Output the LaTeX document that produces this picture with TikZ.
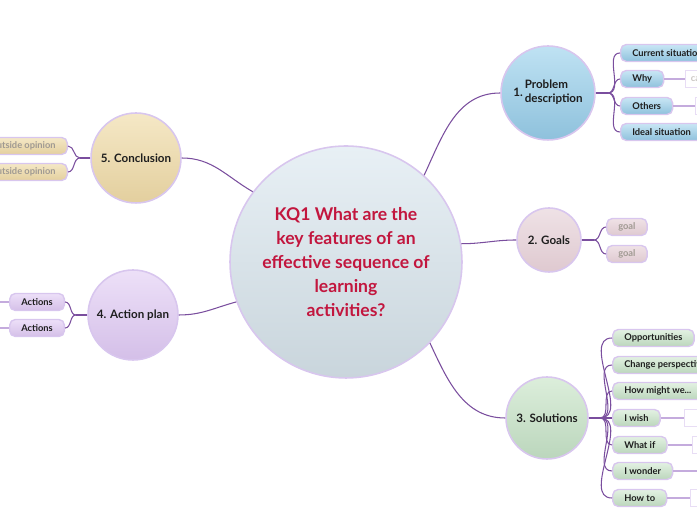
\documentclass[tikz,border=0pt]{standalone}
\usepackage{fontspec}
\setmainfont{Lato}
\definecolor{rim}{HTML}{D8C6EE}
\definecolor{ink}{HTML}{1E1E1E}
\definecolor{dim}{HTML}{A09A92}
\definecolor{vine}{HTML}{7A4E9E}
\definecolor{twigc}{HTML}{C4ABDD}
\definecolor{kqred}{HTML}{C2163E}
\definecolor{kqtop}{HTML}{E8F0F5}
\definecolor{kqbot}{HTML}{C9D5DC}
\definecolor{probtop}{HTML}{BFE2F3}
\definecolor{probbot}{HTML}{8EC1DC}
\definecolor{goaltop}{HTML}{EFE2E6}
\definecolor{goalbot}{HTML}{DFC9D0}
\definecolor{soltop}{HTML}{DCEEDB}
\definecolor{solbot}{HTML}{BBD6BC}
\definecolor{contop}{HTML}{F5E8C6}
\definecolor{conbot}{HTML}{E3CF9E}
\definecolor{acttop}{HTML}{EDE0F8}
\definecolor{actbot}{HTML}{D4BFE8}
\begin{document}
\begin{tikzpicture}
	[	x=0.02cm,y=0.02cm,
	bubble/.style={circle,draw=rim,line width=0.9pt,align=center,text=ink,
		font=\fontsize{6.6}{8}\selectfont\bfseries},
	leaf/.style={rectangle,rounded corners=3.2pt,draw=rim,line width=0.8pt,
		minimum height=0.34cm,inner xsep=6.6pt,inner ysep=1pt,text=ink,
		font=\fontsize{5.3}{6}\selectfont\bfseries,anchor=west},
	probleaf/.style={leaf,top color=probtop!85,bottom color=probbot},
	goalleaf/.style={leaf,top color=goaltop,bottom color=goalbot,text=dim},
	solleaf/.style={leaf,top color=soltop!80!white,bottom color=solbot},
	conleaf/.style={leaf,top color=contop,bottom color=conbot,text=dim,anchor=east},
	actleaf/.style={leaf,top color=acttop,bottom color=actbot},
	stub/.style={rectangle,draw=rim!60,fill=white,line width=0.6pt,
		minimum height=0.34cm,inner xsep=3pt,anchor=west,
		text=dim!55,font=\fontsize{5.3}{6}\selectfont\bfseries},
	blank/.style={stub,minimum width=1cm},
	link/.style={draw=vine,line width=0.6pt},
	twig/.style={draw=twigc,line width=0.6pt}
	]
	\useasboundingbox (0,0) rectangle (697,520);
	\clip (0,0) rectangle (697,520);

	% centre and main branches
	\node[bubble,minimum size=4.64cm,top color=kqtop,bottom color=kqbot,text=kqred,
		font=\fontsize{10}{13.6}\selectfont\bfseries] (kq) at (346,258)
		{KQ1 What are the\\key features of an\\effective sequence of\\learning\\activities?};
	\node[bubble,minimum size=1.88cm,top color=probtop,bottom color=probbot] (prob) at (548,427)
		{1.\,\begin{tabular}{@{}l@{}}Problem\\description\end{tabular}};
	\node[bubble,minimum size=1.28cm,top color=goaltop,bottom color=goalbot] (goals) at (549,280) {2. Goals};
	\node[bubble,minimum size=1.64cm,top color=soltop,bottom color=solbot] (sol) at (547,102) {3. Solutions};
	\node[bubble,minimum size=1.8cm,top color=acttop,bottom color=actbot] (act) at (133,205) {4. Action plan};
	\node[bubble,minimum size=1.8cm,top color=contop,bottom color=conbot] (con) at (136,362) {5. Conclusion};

	\draw[link] (kq.48) to[out=65,in=180] (prob.west);
	\draw[link] (kq.9) to[out=0,in=180] (goals.west);
	\draw[link] (kq.-44) to[out=-65,in=180] (sol.west);
	\draw[link] (kq.200) to[out=195,in=0] (act.east);
	\draw[link] (kq.143) to[out=150,in=0] (con.east);

	% 1. problem description
	\node[probleaf] (cur) at (620,467) {Current situation};
	\node[probleaf] (why) at (620,441) {Why};
	\node[probleaf] (oth) at (620,414) {Others};
	\node[probleaf] (ideal) at (620,388) {Ideal situation};
	\node[stub] (whyx) at (685,441) {causes};
	\node[blank] (othx) at (695,414) {};
	\coordinate (pf) at (608,427);
	\draw[link] (prob.east) -- (pf);
	\foreach \k in {cur,why,oth,ideal}
		\draw[link] (pf) to[out=0,in=180] (\k.west);
	\draw[twig] (why.east) -- (whyx.west);
	\draw[twig] (oth.east) -- (othx.west);

	% 2. goals
	\node[goalleaf] (g1) at (606,293) {goal};
	\node[goalleaf] (g2) at (606,266) {goal};
	\coordinate (gf) at (594,280);
	\draw[link] (goals.east) -- (gf);
	\foreach \k in {g1,g2}
		\draw[link] (gf) to[out=0,in=180] (\k.west);

	% 3. solutions
	\node[solleaf] (opp) at (612,182) {Opportunities};
	\node[solleaf] (chg) at (612,155) {Change perspective};
	\node[solleaf] (hmw) at (612,129) {How might we...};
	\node[solleaf] (wish) at (612,102) {I wish};
	\node[solleaf] (whatif) at (612,75) {What if};
	\node[solleaf] (wonder) at (612,49) {I wonder};
	\node[solleaf] (howto) at (612,22) {How to};
	\node[blank] (wishx) at (684,102) {};
	\node[blank] (whatifx) at (692,75) {};
	\node[blank] (wonderx) at (699,49) {};
	\node[blank] (howtox) at (690,22) {};
	\coordinate (sf) at (600,102);
	\draw[link] (sol.east) -- (sf);
	\foreach \k in {opp,chg,hmw,wish,whatif,wonder,howto}
		\draw[link] (sf) to[out=0,in=180] (\k.west);
	\foreach \k in {wish,whatif,wonder,howto}
		\draw[twig] (\k.east) -- (\k x.west);

	% 4. action plan
	\node[actleaf] (a1) at (9,218) {Actions};
	\node[actleaf] (a2) at (9,192) {Actions};
	\coordinate (af) at (76,205);
	\coordinate (a1x) at (-8,218);
	\coordinate (a2x) at (-8,192);
	\draw[link] (act.west) -- (af);
	\foreach \k in {a1,a2}{
		\draw[link] (af) to[out=180,in=0] (\k.east);
		\draw[twig] (\k.west) -- (\k x);}

	% 5. conclusion
	\node[conleaf] (o1) at (68,374) {Outside opinion};
	\node[conleaf] (o2) at (68,348) {Outside opinion};
	\coordinate (cf) at (80,362);
	\draw[link] (con.west) -- (cf);
	\foreach \k in {o1,o2}
		\draw[link] (cf) to[out=180,in=0] (\k.east);
\end{tikzpicture}
\end{document}
